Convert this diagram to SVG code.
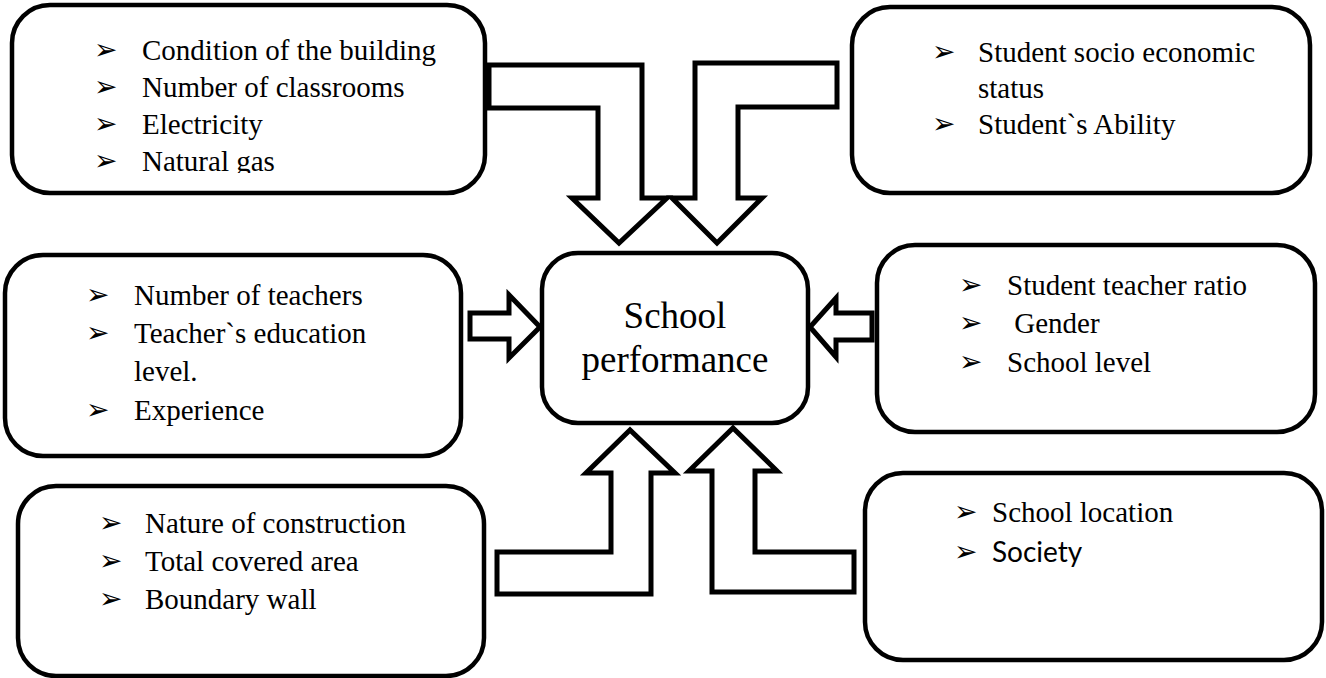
<svg xmlns="http://www.w3.org/2000/svg" width="1326" height="678" viewBox="0 0 1326 678">
  <style>
    .box { fill: #ffffff; stroke: #000000; stroke-width: 4.5; }
    .arrow { fill: #ffffff; stroke: #000000; stroke-width: 5; stroke-linejoin: miter; stroke-miterlimit: 10; }
    .item { font-family: 'Liberation Serif', 'Times New Roman', serif; font-size: 29px; fill: #000000; }
    .sans { font-family: Lato, 'Liberation Sans', sans-serif; font-size: 28px; }
    .bullet { font-family: 'DejaVu Sans', sans-serif; font-size: 28px; fill: #000000; }
    .title { font-family: 'Liberation Serif', 'Times New Roman', serif; font-size: 37px; fill: #000000; text-anchor: middle; }
  </style>
  <defs>
    <!-- last line of the facilities list is cut off at the box padding -->
    <clipPath id="clipFacilities">
      <rect x="0" y="0" width="500" height="173"/>
    </clipPath>
  </defs>
  <rect width="1326" height="678" fill="#ffffff"/>

  <!-- block arrows feeding the central node -->
  <g id="connectors">
    <polygon class="arrow" points="489,65 642,65 642,198 667,198 619,243 572,198 598,198 598,108 489,108"/>
    <polygon class="arrow" points="837,63 695,63 695,198 672,198 717,243 762,198 738,198 738,107 837,107"/>
    <polygon class="arrow" points="470,313 509,313 509,295 540,327 509,358 509,339 470,339"/>
    <polygon class="arrow" points="872,313 836,313 836,298 810,327 836,357 836,340 872,340"/>
    <polygon class="arrow" points="497,552 611,552 611,473 586,473 630,430 675,473 651,473 651,594 497,594"/>
    <polygon class="arrow" points="854,552 755,552 755,471 777,471 733,428 689,471 712,471 712,592 854,592"/>
  </g>

  <g id="facilities">
    <rect class="box" x="12" y="5" width="473" height="188" rx="38"/>
    <g clip-path="url(#clipFacilities)">
      <text class="bullet" x="94" y="59">➢</text>
      <text class="item" x="142" y="60">Condition of the building</text>
      <text class="bullet" x="94" y="96">➢</text>
      <text class="item" x="142" y="97">Number of classrooms</text>
      <text class="bullet" x="94" y="133">➢</text>
      <text class="item" x="142" y="134">Electricity</text>
      <text class="bullet" x="94" y="170">➢</text>
      <text class="item" x="142" y="171">Natural gas</text>
    </g>
  </g>

  <g id="student">
    <rect class="box" x="852" y="7" width="458" height="186" rx="38"/>
    <text class="bullet" x="932" y="61">➢</text>
    <text class="item" x="978" y="62">Student socio economic</text>
    <text class="item" x="978" y="98">status</text>
    <text class="bullet" x="932" y="133">➢</text>
    <text class="item" x="978" y="134">Student`s Ability</text>
  </g>

  <g id="teachers">
    <rect class="box" x="5" y="255" width="456" height="201" rx="38"/>
    <text class="bullet" x="86" y="304">➢</text>
    <text class="item" x="134" y="305">Number of teachers</text>
    <text class="bullet" x="86" y="342">➢</text>
    <text class="item" x="134" y="343">Teacher`s education</text>
    <text class="item" x="134" y="381">level.</text>
    <text class="bullet" x="86" y="419">➢</text>
    <text class="item" x="134" y="420">Experience</text>
  </g>

  <g id="performance">
    <rect class="box" x="542" y="253" width="266" height="170" rx="36"/>
    <text class="title" x="675" y="328">School</text>
    <text class="title" x="675" y="372">performance</text>
  </g>

  <g id="ratio">
    <rect class="box" x="877" y="245" width="438" height="187" rx="38"/>
    <text class="bullet" x="959" y="294">➢</text>
    <text class="item" x="1007" y="295">Student teacher ratio</text>
    <text class="bullet" x="959" y="332">➢</text>
    <text class="item" x="1007" y="333" xml:space="preserve"> Gender</text>
    <text class="bullet" x="959" y="371">➢</text>
    <text class="item" x="1007" y="372">School level</text>
  </g>

  <g id="construction">
    <rect class="box" x="18" y="486" width="466" height="190" rx="38"/>
    <text class="bullet" x="99" y="532">➢</text>
    <text class="item" x="145" y="533">Nature of construction</text>
    <text class="bullet" x="99" y="570">➢</text>
    <text class="item" x="145" y="571">Total covered area</text>
    <text class="bullet" x="99" y="608">➢</text>
    <text class="item" x="145" y="609">Boundary wall</text>
  </g>

  <g id="location">
    <rect class="box" x="865" y="473" width="457" height="187" rx="38"/>
    <text class="bullet" x="954" y="521">➢</text>
    <text class="item" x="992" y="522">School location</text>
    <text class="bullet" x="954" y="561">➢</text>
    <text class="item sans" x="992" y="562">Society</text>
  </g>
</svg>
